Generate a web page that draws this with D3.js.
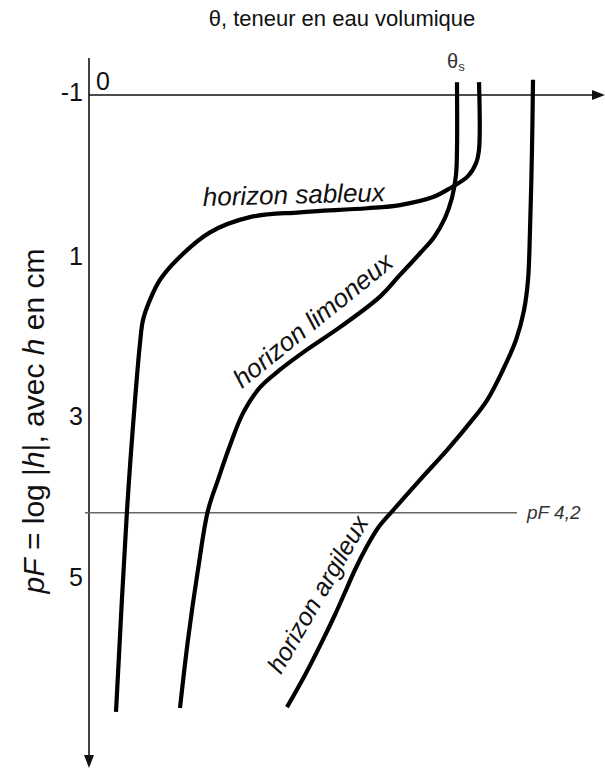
<!DOCTYPE html>
<html>
<head>
<meta charset="utf-8">
<script src="https://cdn.jsdelivr.net/npm/d3@7.9.0/dist/d3.min.js"></script>
<style>
  html, body { margin: 0; padding: 0; background: #fff; }
  svg { display: block; font-family: "Liberation Sans", Arial, sans-serif; }
</style>
</head>
<body>
<div id="chart"></div>
<script>
/* ── data: θ (volumic water content) vs pF ── */
const pfTicks = [-1, 1, 3, 5];
const pfWilting = 4.2;

const sandTheta = [0.4535, 0.4535, 0.450, 0.4407, 0.4198, 0.4000, 0.3616, 0.3233, 0.2453, 0.1872, 0.1407, 0.1023, 0.0826, 0.0709, 0.0628, 0.0593, 0.0535, 0.0442, 0.0314];
const sandPF    = [-1.16, -0.32, -0.15, 0.01, 0.16, 0.27, 0.37, 0.41, 0.46, 0.52, 0.71, 1.05, 1.30, 1.55, 1.80, 2.09, 2.80, 4.17, 6.68];

const limonTheta = [0.4279, 0.4279, 0.4267, 0.4221, 0.4140, 0.4012, 0.3849, 0.3616, 0.3384, 0.2919, 0.2535, 0.2221, 0.1988, 0.1791, 0.1640, 0.1500, 0.1384, 0.1267, 0.1151, 0.1058];
const limonPF    = [-1.16, -0.32, 0.00, 0.28, 0.53, 0.77, 0.97, 1.24, 1.51, 1.89, 2.17, 2.42, 2.64, 2.96, 3.36, 3.79, 4.17, 4.91, 5.78, 6.63];

const clayTheta = [0.5163, 0.5151, 0.5128, 0.5105, 0.5058, 0.4965, 0.4814, 0.4628, 0.4407, 0.4163, 0.3849, 0.3535, 0.3360, 0.3221, 0.3093, 0.2977, 0.2860, 0.2721, 0.2512, 0.2302];
const clayPF    = [-1.19, -0.32, 0.68, 1.30, 1.68, 2.05, 2.42, 2.80, 3.11, 3.42, 3.79, 4.17, 4.39, 4.64, 4.91, 5.19, 5.47, 5.78, 6.22, 6.62];

const curves = [
  { name: 'sable',  theta: sandTheta,  pf: sandPF },
  { name: 'limon',  theta: limonTheta, pf: limonPF },
  { name: 'argile', theta: clayTheta,  pf: clayPF }
];

/* ── svg + scales ─────────────────────────────────────────────── */
const width = 605, height = 771;
const svg = d3.select('#chart').append('svg')
  .attr('width', width).attr('height', height);

const x = d3.scaleLinear().domain([0, 0.6]).range([89, 605]);
const y = d3.scaleLinear().domain([-1, 5]).range([95, 577]);

const ink = '#111';

/* axes ----------------------------------------------------------- */
svg.append('line')                       // horizontal θ axis
  .attr('x1', x(0)).attr('x2', 597)
  .attr('y1', y(-1)).attr('y2', y(-1))
  .attr('stroke', ink).attr('stroke-width', 1.6);
svg.append('path')
  .attr('d', `M592,${y(-1) - 5}L605,${y(-1)}L592,${y(-1) + 5}Z`)
  .attr('fill', ink);

svg.append('line')                       // vertical pF axis
  .attr('x1', x(0)).attr('x2', x(0))
  .attr('y1', 58).attr('y2', 760)
  .attr('stroke', ink).attr('stroke-width', 1.6);
svg.append('path')
  .attr('d', `M${x(0) - 5},755L${x(0)},768L${x(0) + 5},755Z`)
  .attr('fill', ink);

/* pF 4,2 reference line */
svg.append('line')
  .attr('x1', 85).attr('x2', 517)
  .attr('y1', y(pfWilting)).attr('y2', y(pfWilting))
  .attr('stroke', '#666').attr('stroke-width', 1.3);
svg.append('text')
  .attr('x', 527).attr('y', y(pfWilting)).attr('dy', '0.35em')
  .attr('font-size', 19).attr('font-style', 'italic').attr('fill', '#333')
  .text('pF 4,2');

/* tick labels */
svg.selectAll('.tick')
  .data(pfTicks)
  .join('text')
    .attr('class', 'tick')
    .attr('x', 83)
    .attr('y', d => y(d) - (d === -1 ? 3 : 0))
    .attr('dy', '0.36em')
    .attr('text-anchor', 'end')
    .attr('font-size', 25)
    .attr('fill', ink)
    .text(d => d);

svg.append('text')
  .attr('x', 96).attr('y', 90)
  .attr('font-size', 25).attr('fill', ink)
  .text('0');

/* titles */
svg.append('text')
  .attr('x', 342).attr('y', 26)
  .attr('text-anchor', 'middle')
  .attr('font-size', 22).attr('fill', ink)
  .text('θ, teneur en eau volumique');

const th = svg.append('text')
  .attr('x', 447).attr('y', 68)
  .attr('font-size', 20).attr('fill', '#333');
th.append('tspan').text('θ');
th.append('tspan').attr('font-size', 13).attr('dy', 3).text('s');

const yt = svg.append('text')
  .attr('transform', 'translate(44,421) rotate(-90)')
  .attr('text-anchor', 'middle')
  .attr('font-size', 30).attr('fill', ink);
yt.append('tspan').attr('font-style', 'italic').text('pF');
yt.append('tspan').text(' = log |');
yt.append('tspan').attr('font-style', 'italic').text('h');
yt.append('tspan').text('|, avec ');
yt.append('tspan').attr('font-style', 'italic').text('h');
yt.append('tspan').text(' en cm');

/* retention curves ---------------------------------------------- */
const line = d3.line()
  .x(d => x(d[0]))
  .y(d => y(d[1]))
  .curve(d3.curveCatmullRom.alpha(0.5));

svg.selectAll('.curve')
  .data(curves)
  .join('path')
    .attr('class', 'curve')
    .attr('d', c => line(d3.zip(c.theta, c.pf)))
    .attr('fill', 'none')
    .attr('stroke', '#000')
    .attr('stroke-width', 4.2);

/* curve labels */
const labels = [
  { text: 'horizon sableux',  tx: 203, ty: 206, rot: -1.5, size: 26 },
  { text: 'horizon limoneux', tx: 242, ty: 389, rot: -39,  size: 26 },
  { text: 'horizon argileux', tx: 281, ty: 675, rot: -60,  size: 25 }
];
svg.selectAll('.lbl')
  .data(labels)
  .join('text')
    .attr('class', 'lbl')
    .attr('transform', d => `translate(${d.tx},${d.ty}) rotate(${d.rot})`)
    .attr('font-size', d => d.size)
    .attr('font-style', 'italic')
    .attr('fill', ink)
    .text(d => d.text);
</script>
</body>
</html>
